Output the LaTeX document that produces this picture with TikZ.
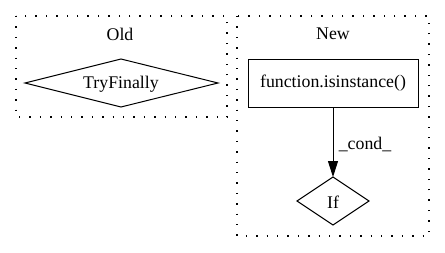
\documentclass[tikz,border=0pt]{standalone}
\usepackage{fontspec}
\setmainfont{Liberation Serif}
\usetikzlibrary{shapes.geometric,arrows.meta}
\begin{document}
\begin{tikzpicture}[x=1pt,y=-1pt,
  every node/.style={font=\fontsize{17.8}{20}\selectfont, inner sep=0pt},
  cluster/.style={draw, line width=1.2pt, dash pattern=on 1.4pt off 9pt},
  callbox/.style={draw, line width=1pt, rectangle, minimum width=170pt, minimum height=48pt},
  flow/.style={line width=1pt, -{Triangle[length=16pt,width=10pt]}}]
  \useasboundingbox (0,0) rectangle (445,252);
  % clusters
  \draw[cluster] (16,16) rectangle (227,117);
  \draw[cluster] (237,16) rectangle (429,236);
  \node (oldlbl) at (120,34) {Old};
  \node (newlbl) at (333,34) {New};
  % old cluster content
  \draw[line width=1pt] (25,83) -- (121,59) -- (218,83) -- (121,107) -- cycle;
  \node (try) at (121,84) {TryFinally};
  % new cluster content
  \node[callbox] (isinst) at (333,83) {function.isinstance()};
  \coordinate (iftop) at (333,177);
  \draw[line width=1pt] (297,201) -- (iftop) -- (369,201) -- (333,225) -- cycle;
  \node (if) at (333,202) {If};
  \draw[flow] (isinst.south) -- (iftop);
  \node (cond) at (365,144) {\_cond\_};
\end{tikzpicture}
\end{document}
